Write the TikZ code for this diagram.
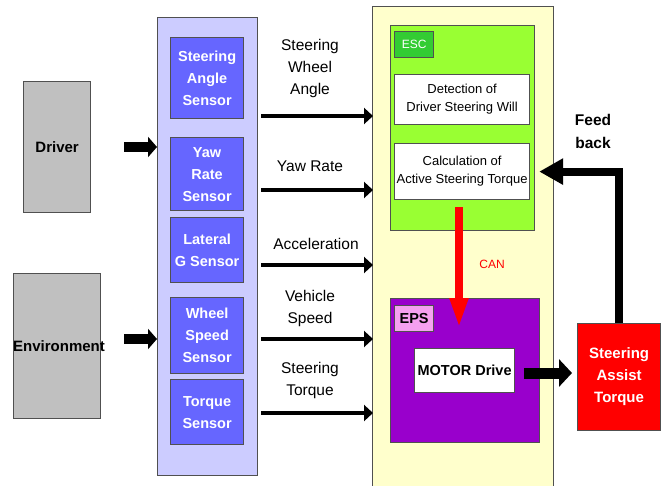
\documentclass[tikz,border=0pt]{standalone}
\usepackage{fontspec}
\setmainfont{Liberation Sans}
\usetikzlibrary{arrows.meta,calc}
\definecolor{lav}{HTML}{CCCCFF}
\definecolor{sblue}{HTML}{6666FF}
\definecolor{lyel}{HTML}{FFFFCC}
\definecolor{escg}{HTML}{99FF33}
\definecolor{escd}{HTML}{33CC33}
\definecolor{purp}{HTML}{9900CC}
\definecolor{pink}{HTML}{F5A0F0}
\definecolor{gry}{HTML}{C0C0C0}
\definecolor{edge}{HTML}{505050}
\tikzset{
  box/.style={draw=edge, line width=1.2pt, anchor=north west, inner sep=0pt, align=center},
  sensorbox/.style={box, fill=sblue, text=white, font=\fontsize{14.5}{22}\selectfont\bfseries, minimum width=73pt},
  lbl/.style={align=center, font=\fontsize{15.5}{22}\selectfont},
  sarrow/.style={line width=3.5pt, -{Triangle[length=9pt,width=16pt]}},
  fat/.style={line width=10pt, -{Triangle[length=9pt,width=20pt]}},
}
\begin{document}
\begin{tikzpicture}[x=1pt,y=-1pt]
\useasboundingbox (0,0) rectangle (669,486);
% left boxes
\node[box, fill=gry, minimum width=67pt, minimum height=131pt, font=\fontsize{15}{18}\selectfont\bfseries] (drv) at (23,81) {Driver};
\node[box, fill=gry, minimum width=87pt, minimum height=145pt] (env) at (13,273) {};
\node[font=\fontsize{15}{18}\selectfont\bfseries, inner sep=0pt] (envt) at (59,346) {Environment};
% sensor panel
\node[box, fill=lav, minimum width=100pt, minimum height=458pt] (sens) at (157,17) {};
\node[sensorbox, minimum height=81pt] (sa) at (170,37) {Steering\\Angle\\Sensor};
\node[sensorbox, minimum height=73pt] (yr) at (170,137) {Yaw\\Rate\\Sensor};
\node[sensorbox, minimum height=65pt] (lg) at (170,217) {Lateral\\G Sensor};
\node[sensorbox, minimum height=76pt] (ws) at (170,297) {Wheel\\Speed\\Sensor};
\node[sensorbox, minimum height=65pt] (ts) at (170,379) {Torque\\Sensor};
% main panel
\node[box, fill=lyel, minimum width=181pt, minimum height=482pt] (main) at (372,6) {};
\node[box, fill=escg, minimum width=144pt, minimum height=205pt] (esc) at (390,25) {};
\node[box, fill=escd, text=white, minimum width=39pt, minimum height=26pt, font=\fontsize{12}{14}\selectfont] (escl) at (394,31) {ESC};
\node[box, fill=white, minimum width=135pt, minimum height=50pt, font=\fontsize{13}{18}\selectfont] (det) at (394,74) {Detection of\\Driver Steering Will};
\node[box, fill=white, minimum width=135pt, minimum height=56pt, font=\fontsize{13}{18}\selectfont] (calc) at (394,143) {Calculation of\\Active Steering Torque};
\node[box, fill=purp, minimum width=149pt, minimum height=144pt] (eps) at (390,298) {};
\node[box, fill=pink, minimum width=39pt, minimum height=26pt, font=\fontsize{14.5}{16}\selectfont\bfseries] (epsl) at (394,305) {EPS};
\node[box, fill=white, minimum width=100pt, minimum height=44pt, font=\fontsize{14.5}{16}\selectfont\bfseries] (mot) at (414,348) {MOTOR Drive};
\node[box, fill=red, text=white, minimum width=83pt, minimum height=107pt, font=\fontsize{15}{22}\selectfont\bfseries] (sat) at (577,323) {Steering\\Assist\\Torque};
% labels
\node[lbl] (l1) at (310,68) {Steering\\Wheel\\Angle};
\node[lbl] (l2) at (310,166) {Yaw Rate};
\node[lbl] (l3) at (316,244) {Acceleration};
\node[lbl] (l4) at (310,308) {Vehicle\\Speed};
\node[lbl] (l5) at (310,380) {Steering\\Torque};
\node[lbl, font=\fontsize{15.5}{23}\selectfont\bfseries] (fbl) at (593,131) {Feed\\back};
\node[text=red, font=\fontsize{12}{14}\selectfont] (can) at (492,264) {CAN};
% input arrows
\draw[fat] ([xshift=33pt]drv.east |- 0,147) -- (sens.west |- 0,147);
\draw[fat] ([xshift=23pt]env.east |- 0,339) -- (sens.west |- 0,339);
% sensor arrows
\coordinate (y1) at (0,116);
\coordinate (y2) at (0,190);
\coordinate (y3) at (0,265);
\coordinate (y4) at (0,339);
\coordinate (y5) at (0,413);
\foreach \c in {y1,y2,y3,y4,y5}{
  \draw[sarrow] ([xshift=3pt]sens.east |- \c) -- ([xshift=1pt]main.west |- \c);
}
% CAN arrow
\draw[red, line width=8pt, -{Triangle[length=30pt,width=17pt]}] ([yshift=-7pt]calc.south -| 459,0) -- ([yshift=20pt]mot.north -| 459,0);
% motor arrow
\draw[line width=11pt, -{Triangle[length=13pt,width=27pt]}] ([xshift=9pt]mot.east |- 0,373) -- ([xshift=-5pt]sat.west |- 0,373);
% feedback
\draw[line width=8pt, -{Triangle[length=24pt,width=25pt]}] (sat.north) |- ([xshift=9pt]calc.east);
\end{tikzpicture}
\end{document}
